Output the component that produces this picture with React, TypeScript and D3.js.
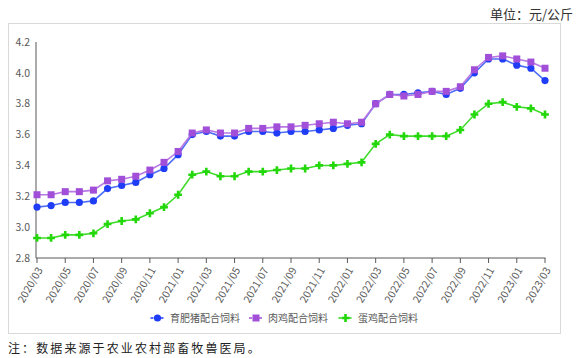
import React from "react";
import * as d3 from "d3";

const months = [
  "2020/03","2020/04","2020/05","2020/06","2020/07","2020/08","2020/09","2020/10","2020/11","2020/12",
  "2021/01","2021/02","2021/03","2021/04","2021/05","2021/06","2021/07","2021/08","2021/09","2021/10","2021/11","2021/12",
  "2022/01","2022/02","2022/03","2022/04","2022/05","2022/06","2022/07","2022/08","2022/09","2022/10","2022/11","2022/12",
  "2023/01","2023/02","2023/03",
];
const tickLabels = [
  "2020/03","2020/05","2020/07","2020/09","2020/11","2021/01","2021/03","2021/05","2021/07","2021/09",
  "2021/11","2022/01","2022/03","2022/05","2022/07","2022/09","2022/11","2023/01","2023/03",
];
const yTicks = [2.8, 3.0, 3.2, 3.4, 3.6, 3.8, 4.0, 4.2];

const pigFeed = [3.13,3.14,3.16,3.16,3.17,3.25,3.27,3.29,3.34,3.38,3.47,3.60,3.62,3.59,3.59,3.62,3.62,3.61,3.62,3.62,3.63,3.64,3.66,3.67,3.80,3.86,3.86,3.87,3.88,3.86,3.90,4.00,4.09,4.09,4.05,4.03,3.95];
const broilerFeed = [3.21,3.21,3.23,3.23,3.24,3.30,3.31,3.33,3.37,3.42,3.49,3.61,3.63,3.61,3.61,3.64,3.64,3.65,3.65,3.66,3.67,3.68,3.67,3.68,3.80,3.86,3.85,3.86,3.88,3.88,3.91,4.02,4.10,4.11,4.09,4.07,4.03];
const layerFeed = [2.93,2.93,2.95,2.95,2.96,3.02,3.04,3.05,3.09,3.13,3.21,3.34,3.36,3.33,3.33,3.36,3.36,3.37,3.38,3.38,3.40,3.40,3.41,3.42,3.54,3.60,3.59,3.59,3.59,3.59,3.63,3.73,3.80,3.81,3.78,3.77,3.73];

const seriesNames = ["育肥猪配合饲料", "肉鸡配合饲料", "蛋鸡配合饲料"];

const series = [
  { name: seriesNames[0], values: pigFeed, line: "#4f6ef5", marker: "#1f3cf7", shape: "circle" },
  { name: seriesNames[1], values: broilerFeed, line: "#b878e4", marker: "#a14fd8", shape: "square" },
  { name: seriesNames[2], values: layerFeed, line: "#3fdc2a", marker: "#22d80a", shape: "cross" },
];

const W = 582, H = 358;
const x = d3.scalePoint<string>().domain(months).range([37, 545]);
const y = d3.scaleLinear().domain([2.8, 4.2]).range([258, 42]);
const font = "'Noto Sans CJK SC', 'Noto Sans', sans-serif";

function Marker({ shape, cx, cy, color }: { shape: string; cx: number; cy: number; color: string }) {
  if (shape === "circle") return <circle cx={cx} cy={cy} r={3.6} fill={color} />;
  if (shape === "square") return <rect x={cx - 3.5} y={cy - 3.5} width={7} height={7} fill={color} />;
  const p = d3.symbol().type(d3.symbolCross).size(34)();
  return <path d={p || ""} transform={`translate(${cx},${cy})`} fill={color} />;
}

export default function App() {
  const lineGen = (vals: number[]) =>
    d3.line<number>().x((_, i) => x(months[i]) as number).y((v) => y(v))(vals) || "";
  const legendX = [157.5, 256, 345.5];
  const legendTextX = [170, 268, 358];
  return (
    <svg width={W} height={H} style={{ position: "absolute", left: 0, top: 0 }} fontFamily={font}>
      <rect x={0} y={0} width={W} height={H} fill="#fff" />
      <text x={573} y={19} textAnchor="end" fontSize={13} fill="#333">单位：元/公斤</text>
      <rect x={8.5} y={23.5} width={552} height={310} fill="#fff" stroke="#d9d9d9" strokeWidth={1} />
      {/* y axis */}
      <line x1={36} x2={36} y1={y(4.2)} y2={y(2.8)} stroke="#595959" strokeWidth={1} />
      {yTicks.map((t) => (
        <text key={t} x={30} y={y(t)} dy="0.35em" textAnchor="end" fontSize={10.5} fill="#595959">
          {t.toFixed(1)}
        </text>
      ))}
      {/* x axis */}
      <line x1={36} x2={545.5} y1={258} y2={258} stroke="#595959" strokeWidth={1} />
      {tickLabels.map((t) => {
        const px = x(t) as number;
        return (
          <g key={t}>
            <line x1={px} x2={px} y1={258} y2={263} stroke="#595959" strokeWidth={1} />
            <text
              transform={`translate(${px + 3},${268}) rotate(-60)`}
              textAnchor="end"
              dy="0.35em"
              fontSize={10.5}
              fill="#595959"
            >
              {t}
            </text>
          </g>
        );
      })}
      {series.map((s) => (
        <g key={s.name}>
          <path d={lineGen(s.values)} fill="none" stroke={s.line} strokeWidth={1.6} />
          {s.values.map((v, i) => (
            <Marker key={i} shape={s.shape} cx={x(months[i]) as number} cy={y(v)} color={s.marker} />
          ))}
        </g>
      ))}
      {/* legend */}
      {series.map((s, i) => (
        <g key={s.name + "lg"}>
          <line x1={legendX[i] - 7} x2={legendX[i] + 7} y1={318} y2={318} stroke={s.marker} strokeWidth={1.6} strokeDasharray="3,2" />
          <Marker shape={s.shape} cx={legendX[i]} cy={318} color={s.marker} />
          <text x={legendTextX[i]} y={318} dy="0.35em" fontSize={10} fill="#595959">{s.name}</text>
        </g>
      ))}
      <text x={8} y={349} dy="0.35em" fontSize={12} letterSpacing={2.1} fill="#222">
        注：数据来源于农业农村部畜牧兽医局。
      </text>
    </svg>
  );
}
